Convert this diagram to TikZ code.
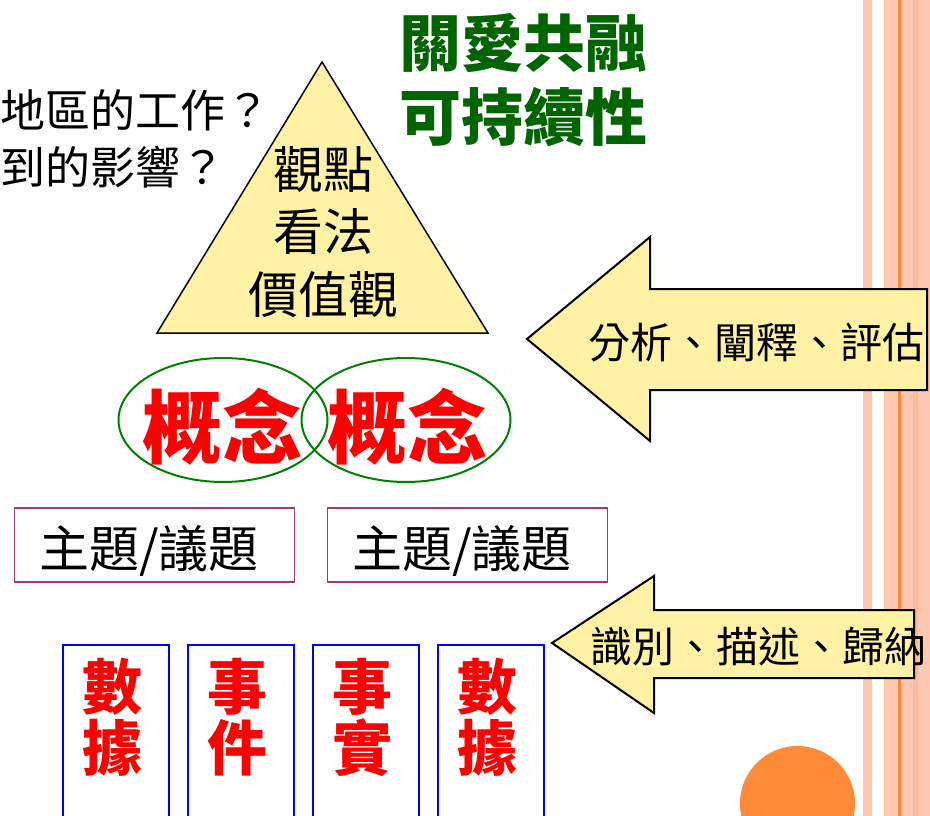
\documentclass[tikz,border=0pt]{standalone}
\usepackage{fontspec}
\usetikzlibrary{shapes.geometric}
\newfontfamily\cjk{Noto Sans CJK TC}
\definecolor{paleyellow}{RGB}{255,242,164}
\definecolor{stripelight}{RGB}{255,200,178}
\definecolor{stripedark}{RGB}{255,184,152}
\definecolor{orangeline}{RGB}{255,136,51}
\definecolor{orangedot}{RGB}{255,139,56}
\definecolor{titlegreen}{RGB}{0,100,0}
\definecolor{ellgreen}{RGB}{0,128,0}
\definecolor{topicframe}{RGB}{160,60,110}
\tikzset{
  plaintext/.style={font=\cjk\fontsize{45}{52}\selectfont, inner sep=0pt, anchor=west},
  greentext/.style={font=\cjk\bfseries\fontsize{62}{66}\selectfont, text=titlegreen, inner sep=0pt},
  tritext/.style={font=\cjk\fontsize{50}{56}\selectfont, inner sep=0pt},
  concept/.style={font=\cjk\bfseries\fontsize{80}{84}\selectfont, text=red, inner sep=0pt},
  conceptring/.style={ellipse, draw=ellgreen, line width=2pt, minimum width=209pt, minimum height=124pt, inner sep=0pt},
  topicbox/.style={draw=topicframe, line width=1.5pt, minimum width=280pt, minimum height=74pt, inner sep=0pt},
  topictext/.style={font=\cjk\fontsize{50}{54}\selectfont, inner sep=0pt},
  databox/.style={draw=blue, line width=1.6pt, minimum width=106pt, minimum height=220pt, inner sep=0pt, anchor=north},
  datatext/.style={font=\cjk\bfseries\fontsize{60}{64}\selectfont, text=red, inner sep=0pt, align=center},
  bigarrow/.style={draw=black, line width=2pt, fill=paleyellow, line join=miter},
  arrowtext/.style={font=\cjk\fontsize{42}{50}\selectfont, inner sep=0pt}
}
\begin{document}
\begin{tikzpicture}[x=1pt,y=-1pt]
\useasboundingbox (0,0) rectangle (930,816);
\clip (0,0) rectangle (930,816);
\fill[white] (0,0) rectangle (930,816);
% right stripes
\fill[stripelight] (863,0) rectangle (872,816);
\fill[stripelight] (884,0) rectangle (930,816);
\fill[stripedark] (913,0) rectangle (918,816);
\fill[orangeline] (898,0) rectangle (901,816);
% orange dot
\fill[orangedot] (797.5,803.5) circle[radius=57.5];
% top-left questions
\node[plaintext] (q1) at (0,110) {地區的工作？};
\node[plaintext] (q2) at (0,167) {到的影響？};
% green title
\node[greentext] (g1) at (523,43) {關愛共融};
\node[greentext] (g2) at (523,117) {可持續性};
% triangle
\draw[fill=paleyellow, line width=1.5pt, line join=miter] (322,62) -- (157,333) -- (488,333) -- cycle;
\node[tritext] (t1) at (323,170) {觀點};
\node[tritext] (t2) at (323,232) {看法};
\node[tritext] (t3) at (323,295) {價值觀};
% concept rings
\node[conceptring] (e1) at (223,420) {};
\node[conceptring] (e2) at (406,420) {};
\node[concept] (c1) at (222,427) {概念};
\node[concept] (c2) at (407,427) {概念};
% topic boxes
\node[topicbox] (b1) at (154.5,545) {};
\node[topicbox] (b2) at (467.5,545) {};
\node[topictext] (bt1) at (149,551) {主題/議題};
\node[topictext] (bt2) at (462,551) {主題/議題};
% data boxes
\node[databox] (d1) at (116,644) {};
\node[databox] (d2) at (241,644) {};
\node[databox] (d3) at (366,644) {};
\node[databox] (d4) at (491,644) {};
\node[datatext] (x1a) at (112,687) {數};
\node[datatext] (x1b) at (112,748) {據};
\node[datatext] (x2a) at (237,687) {事};
\node[datatext] (x2b) at (237,748) {件};
\node[datatext] (x3a) at (362,687) {事};
\node[datatext] (x3b) at (362,748) {實};
\node[datatext] (x4a) at (487,687) {數};
\node[datatext] (x4b) at (487,748) {據};
% arrows
\draw[bigarrow] (927,289) -- (650,289) -- (650,237) -- (527,339) -- (650,441) -- (650,390) -- (927,390) -- cycle;
\node[arrowtext] (a1) at (756,343) {分析、闡釋、評估};
\draw[bigarrow] (914,610) -- (654,610) -- (654,576) -- (552,643) -- (654,713) -- (654,678) -- (914,678) -- cycle;
\node[arrowtext] (a2) at (758,647) {識別、描述、歸納};
\end{tikzpicture}
\end{document}
